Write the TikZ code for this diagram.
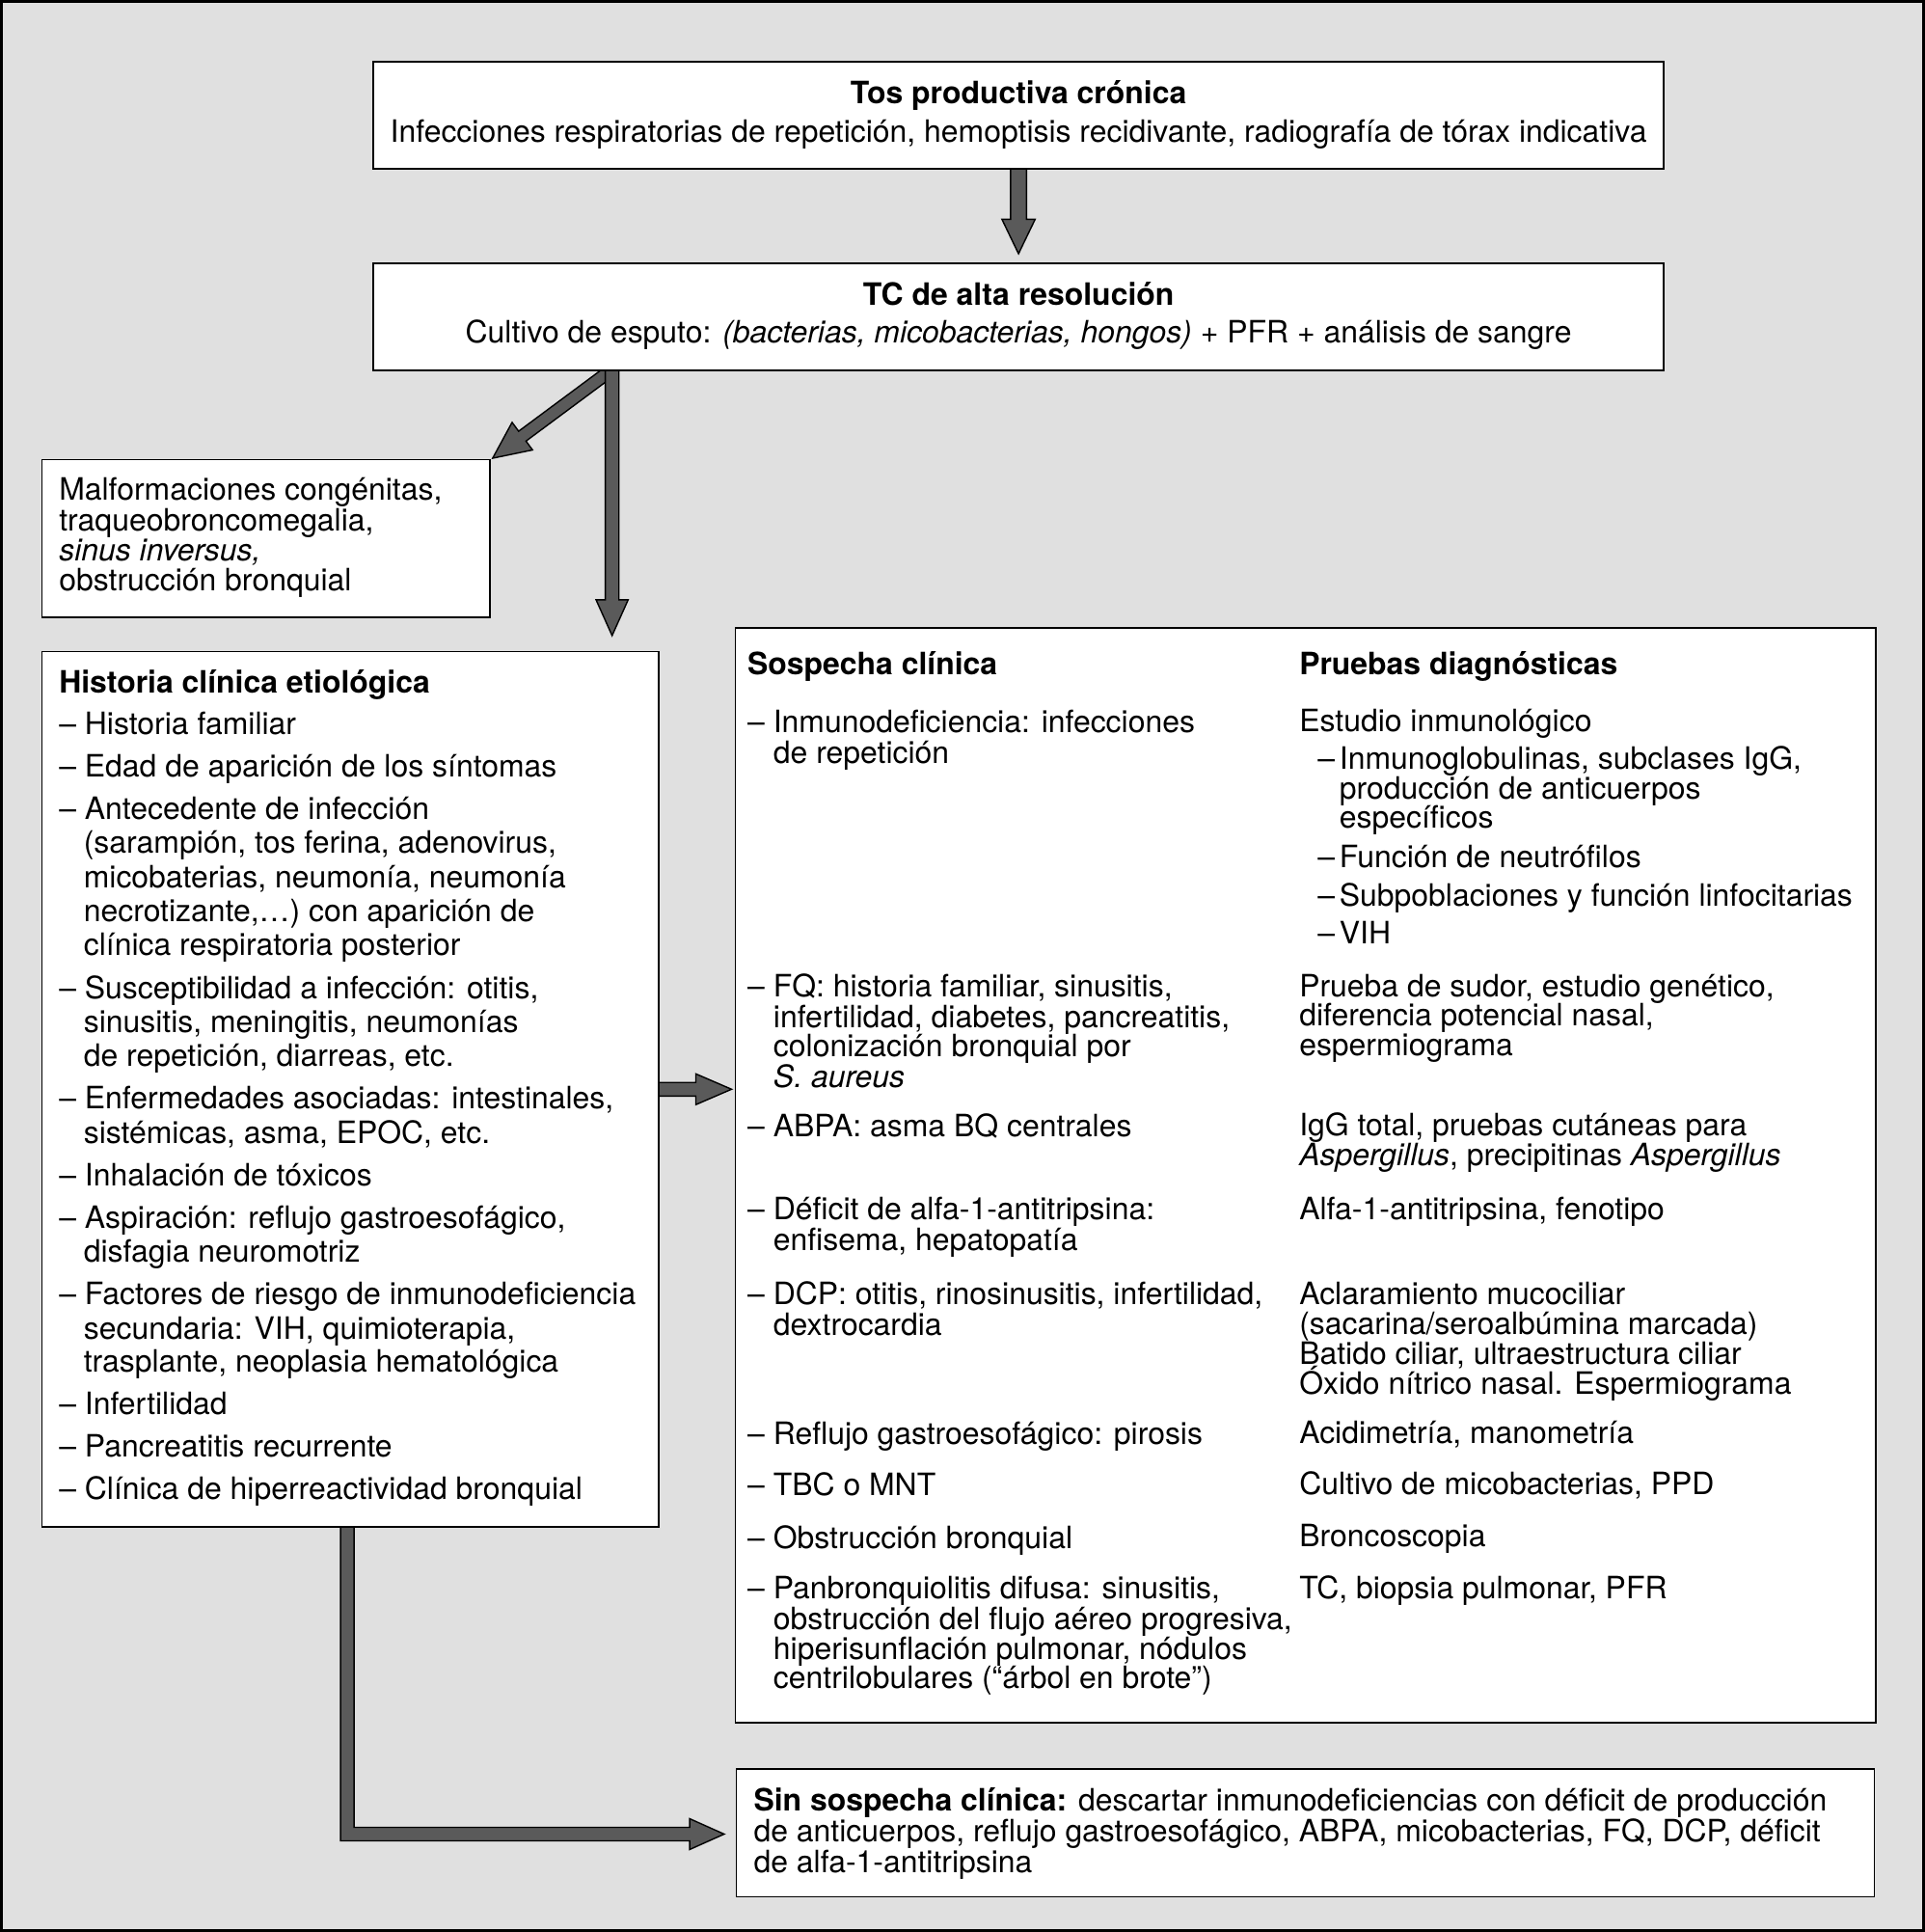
\documentclass[tikz,border=0pt]{standalone}
\usepackage{fontspec}
\setmainfont{TeX Gyre Heros}
\usetikzlibrary{calc}
\definecolor{arrowgray}{HTML}{5A5A5A}
\definecolor{bggray}{HTML}{E0E0E0}
\tikzset{
  tx/.style={inner sep=0pt, outer sep=0pt, anchor=base west, font=\fontsize{25}{28}\selectfont},
  txc/.style={tx, anchor=base},
  box/.style={draw=black, line width=1.3pt, fill=white, inner sep=0pt, outer sep=0pt, rectangle},
  fat/.style={draw=black, line width=1.1pt, fill=arrowgray, line join=miter},
}
\newcommand\mytl[4]{\node[tx] (#1) at (#2,#3) {#4};}
\newcommand\myctl[4]{\node[txc] (#1) at (#2,#3) {#4};}
\newcommand\subd{\makebox[17.6pt][l]{–}}
\begin{document}
\begin{tikzpicture}[x=1pt,y=-1pt]
\path[use as bounding box] (0,0) rectangle (1563,1568.5);
\draw[fill=bggray, line width=2pt] (1,1) rectangle (1562,1567.5);

% box positions (used as anchors for the connectors)
\path (827,93.5) coordinate (c1) (827,257.25) coordinate (c2) (216,437) coordinate (c3)
      (284.5,884.3) coordinate (c4) (1060,954.3) coordinate (c5) (1060,1488) coordinate (c6);
\node[box, draw=none, fill=none, minimum width=1048pt, minimum height=87pt] (b1) at (c1) {};
\node[box, draw=none, fill=none, minimum width=1048pt, minimum height=86.5pt] (b2) at (c2) {};
\node[box, draw=none, fill=none, minimum width=364pt, minimum height=128pt] (b3) at (c3) {};
\node[box, draw=none, fill=none, minimum width=501pt, minimum height=710.6pt] (b4) at (c4) {};
\node[box, draw=none, fill=none, minimum width=926pt, minimum height=888.6pt] (b5) at (c5) {};
\node[box, draw=none, fill=none, minimum width=924pt, minimum height=104pt] (b6) at (c6) {};

% arrow b1 -> b2
\coordinate (a1t) at ($(b2.north)+(0,-8)$);
\draw[fat] ($(b1.south)+(-6.5,0)$) -- ($(a1t)+(-6.5,-28)$) -- ($(a1t)+(-13.5,-28)$) -- (a1t)
  -- ($(a1t)+(13.5,-28)$) -- ($(a1t)+(6.5,-28)$) -- ($(b1.south)+(6.5,0)$) -- cycle;

% diagonal arrow b2 -> b3
\coordinate (a3t) at ($(b3.north east)+(2,-1)$);
\draw[fat] (a3t) -- ($(a3t)+(15.8,-29.1)$) -- ($(a3t)+(21.1,-21.9)$) -- ($(a3t)+(94,-76)$)
  -- ($(a3t)+(100,-68)$) -- ($(a3t)+(27.1,-13.9)$) -- ($(a3t)+(32.4,-6.7)$) -- cycle;

% vertical arrow b2 -> b4
\coordinate (a2s) at ($(b2.south west)+(194,-2)$);
\coordinate (a2t) at ($(b4.north west)+(463,-13)$);
\draw[fat] ($(a2s)+(-5.5,0)$) -- ($(a2t)+(-5.5,-29)$) -- ($(a2t)+(-13,-29)$) -- (a2t)
  -- ($(a2t)+(13,-29)$) -- ($(a2t)+(5.5,-29)$) -- ($(a2s)+(5.5,0)$) -- cycle;

% arrow b4 -> b5
\coordinate (a4t) at ($(b5.west |- b4.east)+(-3,0)$);
\draw[fat] ($(b4.east)+(-2,-5.5)$) -- ($(a4t)+(-29,-5.5)$) -- ($(a4t)+(-29,-12.5)$) -- (a4t)
  -- ($(a4t)+(-29,12.5)$) -- ($(a4t)+(-29,5.5)$) -- ($(b4.east)+(-2,5.5)$) -- cycle;

% elbow arrow b4 -> b6
\coordinate (a5s) at ($(b4.south)+(-2.5,-2)$);
\coordinate (a5t) at ($(b6.west)+(-10,1)$);
\coordinate (a5c) at (a5s |- a5t);
\draw[fat] ($(a5s)+(-5.5,0)$) -- ($(a5c)+(-5.5,5.5)$) -- ($(a5t)+(-28,5.5)$) -- ($(a5t)+(-28,12.5)$)
  -- (a5t) -- ($(a5t)+(-28,-12.5)$) -- ($(a5t)+(-28,-5.5)$) -- ($(a5c)+(5.5,-5.5)$)
  -- ($(a5s)+(5.5,0)$) -- cycle;

% visible boxes
\node[box, minimum width=1048pt, minimum height=87pt] (B1) at (b1) {};
\node[box, minimum width=1048pt, minimum height=86.5pt] (B2) at (b2) {};
\node[box, minimum width=364pt, minimum height=128pt] (B3) at (b3) {};
\node[box, minimum width=501pt, minimum height=710.6pt] (B4) at (b4) {};
\node[box, minimum width=926pt, minimum height=888.6pt] (B5) at (b5) {};
\node[box, minimum width=924pt, minimum height=104pt] (B6) at (b6) {};

% box 1
\myctl{t1a}{827}{84}{\textbf{Tos productiva crónica}}
\myctl{t1b}{827}{115.5}{Infecciones respiratorias de repetición, hemoptisis recidivante, radiografía de tórax indicativa}
% box 2
\myctl{t2a}{827}{248}{\textbf{TC de alta resolución}}
\myctl{t2b}{827}{278}{Cultivo de esputo: \textit{(bacterias, micobacterias, hongos)} + PFR + análisis de sangre}
% box 3
\mytl{t3a}{48}{406}{Malformaciones congénitas,}
\mytl{t3b}{48}{431}{traqueobroncomegalia,}
\mytl{t3c}{48}{455}{\textit{sinus inversus,}}
\mytl{t3d}{48}{480}{obstrucción bronquial}
% box 4
\mytl{t4a}{48}{562.5}{\textbf{Historia clínica etiológica}}
\mytl{t4b}{48}{596.5}{– Historia familiar}
\mytl{t4c}{48}{631}{– Edad de aparición de los síntomas}
\mytl{t4d}{48}{665.5}{– Antecedente de infección}
\mytl{t4e}{68}{693}{(sarampión, tos ferina, adenovirus,}
\mytl{t4f}{68}{720.5}{micobaterias, neumonía, neumonía}
\mytl{t4g}{68}{748.5}{necrotizante,…) con aparición de}
\mytl{t4h}{68}{776}{clínica respiratoria posterior}
\mytl{t4i}{48}{811}{– Susceptibilidad a infección: otitis,}
\mytl{t4j}{68}{838}{sinusitis, meningitis, neumonías}
\mytl{t4k}{68}{866}{de repetición, diarreas, etc.}
\mytl{t4l}{48}{900}{– Enfermedades asociadas: intestinales,}
\mytl{t4m}{68}{928}{sistémicas, asma, EPOC, etc.}
\mytl{t4n}{48}{963}{– Inhalación de tóxicos}
\mytl{t4o}{48}{997}{– Aspiración: reflujo gastroesofágico,}
\mytl{t4p}{68}{1025}{disfagia neuromotriz}
\mytl{t4q}{48}{1059}{– Factores de riesgo de inmunodeficiencia}
\mytl{t4r}{68}{1087}{secundaria: VIH, quimioterapia,}
\mytl{t4s}{68}{1114}{trasplante, neoplasia hematológica}
\mytl{t4t}{48}{1148}{– Infertilidad}
\mytl{t4u}{48}{1183}{– Pancreatitis recurrente}
\mytl{t4v}{48}{1217}{– Clínica de hiperreactividad bronquial}
% box 5 headers
\mytl{h5a}{607}{548}{\textbf{Sospecha clínica}}
\mytl{h5b}{1055}{548}{\textbf{Pruebas diagnósticas}}
% box 5 left column
\mytl{l01}{607}{594.5}{– Inmunodeficiencia: infecciones}
\mytl{l02}{628}{619.5}{de repetición}
\mytl{l03}{607}{809}{– FQ: historia familiar, sinusitis,}
\mytl{l04}{628}{834}{infertilidad, diabetes, pancreatitis,}
\mytl{l05}{628}{858}{colonización bronquial por}
\mytl{l06}{628}{883}{\textit{S. aureus}}
\mytl{l07}{607}{923}{– ABPA: asma BQ centrales}
\mytl{l08}{607}{990}{– Déficit de alfa-1-antitripsina:}
\mytl{l09}{628}{1015}{enfisema, hepatopatía}
\mytl{l10}{607}{1059}{– DCP: otitis, rinosinusitis, infertilidad,}
\mytl{l11}{628}{1084}{dextrocardia}
\mytl{l12}{607}{1173}{– Reflujo gastroesofágico: pirosis}
\mytl{l13}{607}{1214}{– TBC o MNT}
\mytl{l14}{607}{1257}{– Obstrucción bronquial}
\mytl{l15}{607}{1298}{– Panbronquiolitis difusa: sinusitis,}
\mytl{l16}{628}{1323}{obstrucción del flujo aéreo progresiva,}
\mytl{l17}{628}{1347}{hiperisunflación pulmonar, nódulos}
\mytl{l18}{628}{1371}{centrilobulares (“árbol en brote”)}
% box 5 right column
\mytl{r01}{1055}{594}{Estudio inmunológico}
\mytl{r02}{1070}{624.5}{\subd Inmunoglobulinas, subclases IgG,}
\mytl{r03}{1087.6}{648.5}{producción de anticuerpos}
\mytl{r04}{1087.6}{672}{específicos}
\mytl{r05}{1070}{704}{\subd Función de neutrófilos}
\mytl{r06}{1070}{736}{\subd Subpoblaciones y función linfocitarias}
\mytl{r07}{1070}{766}{\subd VIH}
\mytl{r08}{1055}{809}{Prueba de sudor, estudio genético,}
\mytl{r09}{1055}{833}{diferencia potencial nasal,}
\mytl{r10}{1055}{857}{espermiograma}
\mytl{r11}{1055}{922}{IgG total, pruebas cutáneas para}
\mytl{r12}{1055}{946}{\textit{Aspergillus}, precipitinas \textit{Aspergillus}}
\mytl{r13}{1055}{990}{Alfa-1-antitripsina, fenotipo}
\mytl{r14}{1055}{1059}{Aclaramiento mucociliar}
\mytl{r15}{1055}{1083}{(sacarina/seroalbúmina marcada)}
\mytl{r16}{1055}{1108}{Batido ciliar, ultraestructura ciliar}
\mytl{r17}{1055}{1132}{Óxido nítrico nasal. Espermiograma}
\mytl{r18}{1055}{1172}{Acidimetría, manometría}
\mytl{r19}{1055}{1213}{Cultivo de micobacterias, PPD}
\mytl{r20}{1055}{1256}{Broncoscopia}
\mytl{r21}{1055}{1298}{TC, biopsia pulmonar, PFR}
% box 6
\mytl{t6a}{612}{1470}{\textbf{Sin sospecha clínica:} descartar inmunodeficiencias con déficit de producción}
\mytl{t6b}{612}{1495}{de anticuerpos, reflujo gastroesofágico, ABPA, micobacterias, FQ, DCP, déficit}
\mytl{t6c}{612}{1520}{de alfa-1-antitripsina}
\end{tikzpicture}
\end{document}
